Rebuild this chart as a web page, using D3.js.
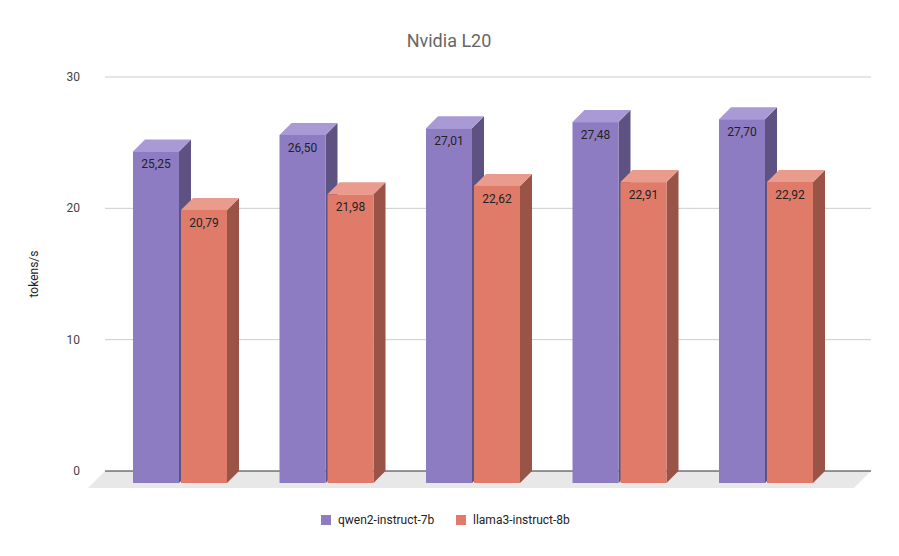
<!DOCTYPE html><html><head><meta charset="utf-8">
<script src="https://cdn.jsdelivr.net/npm/d3@7"></script>
<style>body{margin:0;background:#fff}</style></head><body><svg id="c" width="899" height="556"></svg>
<script>
const categories=["A","B","C","D","E"];
const seriesNames=["qwen2-instruct-7b","llama3-instruct-8b"];
const qwen=[25.25,26.50,27.01,27.48,27.70];
const llama=[20.79,21.98,22.62,22.91,22.92];
const yTicks=[0,10,20,30];
const colors=[{f:"#8e7cc3",s:"#5e5283",t:"#a99ad6"},{f:"#e07b6a",s:"#9a5347",t:"#e99b8e"}];
const svg=d3.select("#c");
const D=12; // depth
const y=d3.scaleLinear().domain([0,30]).range([471,77]);
const x=d3.scaleBand().domain(categories).range([118.75,851.25]);
const gridL=105,gridR=871;
svg.append("text").attr("x",449).attr("y",47).attr("text-anchor","middle").attr("font-family","Roboto,Arial").attr("font-size",18).attr("fill","#666").text("Nvidia L20");
// floor
svg.append("path").attr("d",`M${gridL},${y(0)}L${gridR},${y(0)}L${gridR-17},${y(0)+17}L${gridL-17},${y(0)+17}Z`).attr("fill","#e8e8e8");
yTicks.forEach(t=>{
 if(t>0)svg.append("line").attr("x1",gridL).attr("x2",gridR).attr("y1",y(t)).attr("y2",y(t)).attr("stroke","#ccc");
 svg.append("text").attr("x",80).attr("y",y(t)+4).attr("text-anchor","end").attr("font-family","Roboto,Arial").attr("font-size",12).attr("fill","#444").text(t);
});
svg.append("line").attr("x1",gridL).attr("x2",gridR).attr("y1",y(0)).attr("y2",y(0)).attr("stroke","#333");
svg.append("text").attr("transform","translate(38,274) rotate(-90)").attr("text-anchor","middle").attr("font-family","Roboto,Arial").attr("font-size",12).attr("fill","#222").text("tokens/s");
const bw=46,gap=2;
[qwen,llama].forEach((vals,si)=>{
 const c=colors[si];
 vals.forEach((v,i)=>{
  const bx=x(categories[i])+x.bandwidth()/2-(bw+gap/2)+si*(bw+gap); // back plane left
  const fx=bx-D, top=y(v)+D, base=y(0)+D;
  const g=svg.append("g");
  g.append("path").attr("d",`M${fx+bw},${top}L${bx+bw},${y(v)}L${bx+bw},${y(0)}L${fx+bw},${base}Z`).attr("fill",c.s);
  g.append("path").attr("d",`M${fx},${top}L${bx},${y(v)}L${bx+bw},${y(v)}L${fx+bw},${top}Z`).attr("fill",c.t);
  g.append("rect").attr("x",fx).attr("y",top).attr("width",bw).attr("height",base-top).attr("fill",c.f);
  g.append("text").attr("x",fx+bw/2).attr("y",top+17).attr("text-anchor","middle").attr("font-family","Roboto,Arial").attr("font-size",12).attr("fill","#222").text(v.toFixed(2).replace(".",","));
 });
});
const lg=svg.append("g").attr("font-family","Roboto,Arial").attr("font-size",12).attr("fill","#222");
[[321,seriesNames[0],colors[0].f],[456,seriesNames[1],colors[1].f]].forEach(([lx,n,col])=>{
 lg.append("rect").attr("x",lx).attr("y",515).attr("width",10).attr("height",10).attr("fill",col);
 lg.append("text").attr("x",lx+17).attr("y",524).text(n);
});
</script></body></html>
